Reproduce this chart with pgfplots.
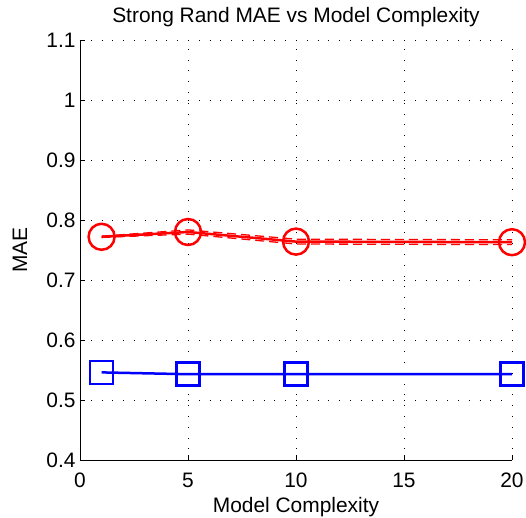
\documentclass[border=0pt]{standalone}
\usepackage{fontspec}
\setmainfont{Liberation Sans}
\usepackage{pgfplots}
\pgfplotsset{compat=1.18}

\begin{document}
\begin{tikzpicture}
\begin{axis}[
    anchor=origin,
    at={(0,0)},
    scale only axis,
    width=432bp, height=420bp,
    xmin=0, xmax=20, ymin=0.4, ymax=1.1,
    xtick={0,5,10,15,20},
    ytick={0.4,0.5,0.6,0.7,0.8,0.9,1,1.1},
    yticklabels={0.4,0.5,0.6,0.7,0.8,0.9,1,1.1},
    axis x line*=bottom, axis y line*=left,
    axis line style={line width=0.8bp},
    tick align=inside,
    major tick length=5bp,
    tick style={black, line width=0.8bp},
    grid=major,
    major grid style={black, line width=0.8bp, dash pattern=on 0.8bp off 10bp},
    font=\fontsize{21}{24}\selectfont,
    /pgf/number format/assume math mode=true,
    yticklabel style={xshift=-1bp},
    xticklabel style={anchor=base, yshift=-27bp},
    title={Strong Rand MAE vs Model Complexity},
    title style={at={(axis description cs:0.5,1)}, anchor=base, yshift=12bp},
    xlabel={Model Complexity},
    xlabel style={at={(axis description cs:0.5,0)}, anchor=base, yshift=-52bp},
    ylabel={MAE},
    ylabel style={at={(axis description cs:-0.139,0.5)}, anchor=center},
    clip=false,
]
% upper / lower bounds
\addplot[red, line width=1.3bp, dash pattern=on 9bp off 5bp] coordinates {(1,0.773) (5,0.7835) (10,0.768) (20,0.767)};
\addplot[red, line width=1.3bp, dash pattern=on 9bp off 5bp] coordinates {(1,0.771) (5,0.7765) (10,0.760) (20,0.759)};
% mean curves
\addplot[red, line width=2.5bp, mark=o, mark size=13bp, mark options={line width=2.5bp, solid}] coordinates {(1,0.772) (5,0.780) (10,0.764) (20,0.763)};
\addplot[blue, line width=2.5bp, mark=square, mark size=11.5bp, mark options={line width=2.5bp, solid}] coordinates {(1,0.546) (5,0.543) (10,0.543) (20,0.543)};
\end{axis}
\pgfresetboundingbox
\path (-80bp,-58bp) rectangle (446bp,460bp);
\end{tikzpicture}
\end{document}
